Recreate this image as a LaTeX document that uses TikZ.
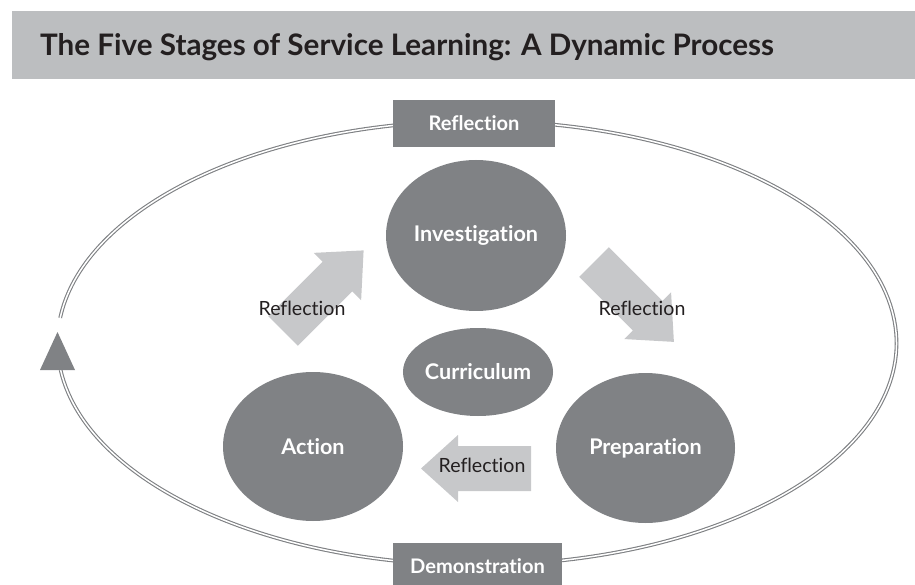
\documentclass[tikz,border=0pt]{standalone}
\usepackage{fontspec}
\usepackage{xcolor}
\setmainfont{Lato}[Ligatures=NoCommon]
\usetikzlibrary{shapes.geometric}
\definecolor{stagegray}{HTML}{808285}
\definecolor{arrowgray}{HTML}{C7C8CA}
\definecolor{bargray}{HTML}{BCBEC0}
\definecolor{ringgray}{HTML}{7E8083}
\definecolor{inkblack}{HTML}{231F20}

\begin{document}
\begin{tikzpicture}[scale=0.35]
 	\tikzstyle{every node}+=[inner sep=0pt]
 	\tikzstyle{stage}=[ellipse, fill=stagegray, text=white, font=\fontsize{21.5}{24}\selectfont\bfseries]
 	\tikzstyle{tag}=[rectangle, fill=stagegray, text=white, font=\fontsize{20}{24}\selectfont\bfseries]
 	\tikzstyle{note}=[text=inkblack, font=\fontsize{19.5}{24}\selectfont]
 	\tikzstyle{ring}=[draw=ringgray, double=white, double distance=1.5pt, line width=1.1pt]
 	\useasboundingbox (0,0) rectangle (91.5,-58.5);
 	\clip (0,0) rectangle (91.5,-58.5);
 	% title bar
 	\fill [bargray] (1.2,-1.1) rectangle (91.5,-7.9);
 	\node [anchor=base west, text=inkblack, font=\fontsize{29.5}{32}\selectfont\bfseries] (title) at (4.0,-5.6) {The Five Stages of Service Learning: A Dynamic Process};
 	% outer loop with gap on the left
 	\coordinate (loopstart) at (6.06,-37.0);
 	\draw [ring] (loopstart) arc [start angle=187, end angle=533.5, x radius=41.95, y radius=22.2];
 	\fill [stagegray] (4.0,-37.0) -- (7.5,-37.0) -- (5.75,-33.2) -- cycle;
 	\node [tag, minimum width=5.67cm, minimum height=1.645cm] (top) at (47.4,-12.35) {Reflection};
 	\node [tag, minimum width=5.915cm, minimum height=1.61cm] (demo) at (47.75,-56.6) {Demonstration};
 	% stages
 	\node [stage, minimum width=6.3cm, minimum height=5.285cm] (inv) at (47.6,-23.55) {Investigation};
 	\node [stage, minimum width=4.55cm, minimum height=3.08cm] (cur) at (47.8,-37.2) {Curriculum};
 	\node [stage, minimum width=6.3cm, minimum height=5.215cm] (act) at (31.3,-44.65) {Action};
 	\node [stage, minimum width=6.265cm, minimum height=5.25cm] (prep) at (64.55,-44.8) {Preparation};
 	% block arrows
 	\fill [arrowgray, shift={(28.3,-33.1)}, rotate=45] (0,-2.1) -- (7.7,-2.1) -- (7.7,-3.35) -- (11.4,0) -- (7.7,3.35) -- (7.7,2.1) -- (0,2.1) -- cycle;
 	\fill [arrowgray, shift={(59.4,-26.2)}, rotate=-45] (0,-2.1) -- (7.6,-2.1) -- (7.6,-3.3) -- (11.3,0) -- (7.6,3.3) -- (7.6,2.1) -- (0,2.1) -- cycle;
 	\fill [arrowgray, shift={(53.1,-46.85)}, rotate=180] (0,-2.25) -- (7.3,-2.25) -- (7.3,-3.35) -- (11.0,0) -- (7.3,3.35) -- (7.3,2.25) -- (0,2.25) -- cycle;
 	\node [note] (refUL) at (30.2,-30.8) {Reflection};
 	\node [note] (refUR) at (64.2,-30.8) {Reflection};
 	\node [note] (refB) at (48.2,-46.5) {Reflection};
\end{tikzpicture}
\end{document}
